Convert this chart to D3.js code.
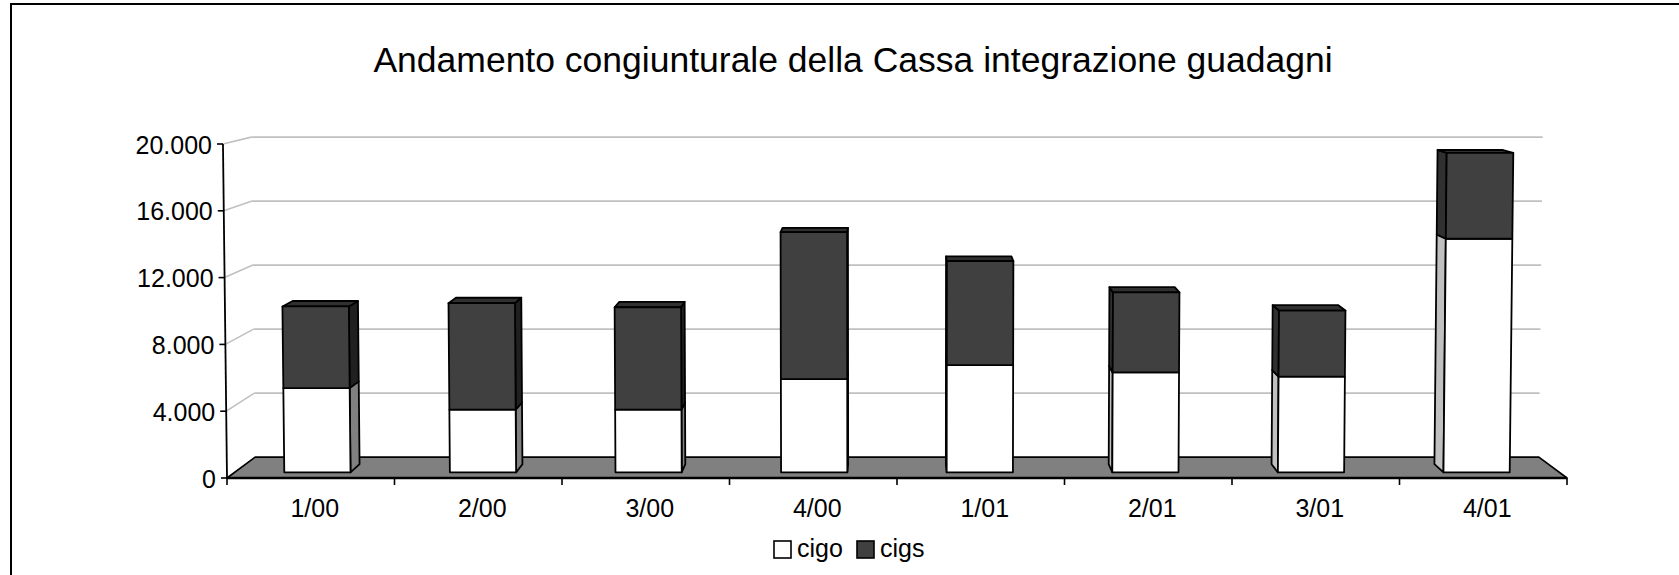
<!DOCTYPE html>
<html>
<head>
<meta charset="utf-8">
<script src="https://cdn.jsdelivr.net/npm/d3@7"></script>
<style>
  html, body { margin: 0; padding: 0; background: #fff; }
  svg { display: block; }
  text { font-family: "Liberation Sans", Arial, sans-serif; fill: #000; }
</style>
</head>
<body>
<svg id="chart" width="1679" height="575"></svg>
<script>
// ---- data ----
const categories = ["1/00", "2/00", "3/00", "4/00", "1/01", "2/01", "3/01", "4/01"];
const cigo = [5100, 3800, 3800, 5650, 6500, 6050, 5800, 14150];
const cigs = [4950, 6450, 6200, 8900, 6300, 4850, 4000, 5200];
const seriesNames = ["cigo", "cigs"];
const yTicks = [0, 4000, 8000, 12000, 16000, 20000];
const title = "Andamento congiunturale della Cassa integrazione guadagni";

const rows = categories.map((c, i) => ({ cat: c, cigo: cigo[i], cigs: cigs[i] }));

// ---- styles ----
const colors = {
  cigo: { front: "#ffffff", right: "#808080", left: "#c0c0c0", top: "#c0c0c0" },
  cigs: { front: "#404040", right: "#202020", left: "#303030", top: "#303030" }
};

const svg = d3.select("#chart");
const W = 1679, H = 575;

// ---- scales & projection ----
const X0 = 227, X1 = 1567;
const y = d3.scaleLinear().domain([0, 20000]).range([478, 144]);
const xCat = d3.scaleBand().domain(categories).range([X0, X1]);
const xBar = d3.scaleBand().domain(categories).range([X0, X1]).paddingInner(0.6).paddingOuter(0.3);
const depth = d3.scaleLinear().domain([0, 1]).range([1, 0.958]);
const cx = 897, cy = -20, kShear = 1.8e-5, yBase = y(0);
function P(X, Y, z) {
  const s = depth(z);
  return [cx + (X - cx) * s * (1 + kShear * (yBase - Y)), cy + (Y - cy) * s];
}
const poly = pts => "M" + pts.map(p => p[0].toFixed(2) + "," + p[1].toFixed(2)).join("L") + "Z";
const line = (a, b) => "M" + a[0].toFixed(2) + "," + a[1].toFixed(2) + "L" + b[0].toFixed(2) + "," + b[1].toFixed(2);

// frame
svg.append("rect").attr("x", 11).attr("y", 4).attr("width", W + 20).attr("height", H + 20)
  .attr("fill", "#fff").attr("stroke", "#000").attr("stroke-width", 2);

// title
svg.append("text").attr("x", 853).attr("y", 71.5).attr("text-anchor", "middle")
  .style("font-size", "35.5px").text(title);

// gridlines (back wall + left wall)
const grid = svg.append("g").attr("stroke", "#c0c0c0").attr("stroke-width", 1.6).attr("fill", "none");
yTicks.filter(t => t > 0).forEach(t => {
  grid.append("path").attr("d", line(P(X0, y(t), 0), P(X0, y(t), 1)));
  grid.append("path").attr("d", line(P(X0, y(t), 1), P(X1, y(t), 1)));
});

// floor
svg.append("path")
  .attr("d", poly([P(X0, yBase, 0), P(X1, yBase, 0), P(X1, yBase, 1), P(X0, yBase, 1)]))
  .attr("fill", "#808080").attr("stroke", "#000").attr("stroke-width", 1.6).attr("stroke-linejoin", "round");

// y axis
const yAxisG = svg.append("g");
yAxisG.append("path").attr("d", line(P(X0, y(0), 0), P(X0, y(20000), 0)))
  .attr("stroke", "#000").attr("stroke-width", 1.8);
yTicks.forEach(t => {
  const p = P(X0, y(t), 0);
  yAxisG.append("path").attr("d", line([p[0] - 6, p[1]], p)).attr("stroke", "#000").attr("stroke-width", 1.6);
  yAxisG.append("text").attr("x", p[0] - 11).attr("y", p[1] + 9.5).attr("text-anchor", "end")
    .style("font-size", "25px").text(d3.formatLocale({ decimal: ",", thousands: ".", grouping: [3], currency: ["", "€"] }).format(",d")(t));
});

// bars
const stack = d3.stack().keys(seriesNames)(rows);
const zF = 0.27, zB = 0.66;
const barsG = svg.append("g").attr("stroke", "#000").attr("stroke-width", 1.8).attr("stroke-linejoin", "round");
categories.forEach((c, i) => {
  const xl = xBar(c), xr = xl + xBar.bandwidth();
  stack.forEach((layer, si) => {
    const key = layer.key;
    const v0 = layer[i][0], v1 = layer[i][1];
    const yb = y(v0), yt = y(v1);
    const col = colors[key];
    const g = barsG.append("g");
    if (xr < cx) {
      g.append("path").attr("d", poly([P(xr, yb, zF), P(xr, yb, zB), P(xr, yt, zB), P(xr, yt, zF)])).attr("fill", col.right);
    } else if (xl > cx) {
      g.append("path").attr("d", poly([P(xl, yb, zF), P(xl, yb, zB), P(xl, yt, zB), P(xl, yt, zF)])).attr("fill", col.left);
    }
    if (si === stack.length - 1) {
      g.append("path").attr("d", poly([P(xl, yt, zF), P(xr, yt, zF), P(xr, yt, zB), P(xl, yt, zB)])).attr("fill", col.top);
    }
    g.append("path").attr("d", poly([P(xl, yb, zF), P(xr, yb, zF), P(xr, yt, zF), P(xl, yt, zF)])).attr("fill", col.front);
  });
});

// x axis
const xAxisG = svg.append("g");
xAxisG.append("path").attr("d", line(P(X0, yBase, 0), P(X1, yBase, 0))).attr("stroke", "#000").attr("stroke-width", 2.6);
const bounds = categories.map(c => xCat(c)).concat([X1]);
bounds.forEach(b => {
  const p = P(b, yBase, 0);
  xAxisG.append("path").attr("d", line(p, [p[0], p[1] + 7])).attr("stroke", "#000").attr("stroke-width", 1.6);
});
categories.forEach(c => {
  const p = P(xCat(c) + xCat.bandwidth() / 2, yBase, 0);
  xAxisG.append("text").attr("x", p[0] + 4).attr("y", 517).attr("text-anchor", "middle")
    .style("font-size", "25px").text(c);
});

// legend
const legend = svg.append("g");
const legendX = [774, 857];
seriesNames.forEach((s, i) => {
  legend.append("rect").attr("x", legendX[i]).attr("y", 541).attr("width", 17).attr("height", 17)
    .attr("fill", colors[s].front).attr("stroke", "#000").attr("stroke-width", 1.6);
  legend.append("text").attr("x", legendX[i] + 23).attr("y", 556.5).style("font-size", "25px").text(s);
});
</script>
</body>
</html>
